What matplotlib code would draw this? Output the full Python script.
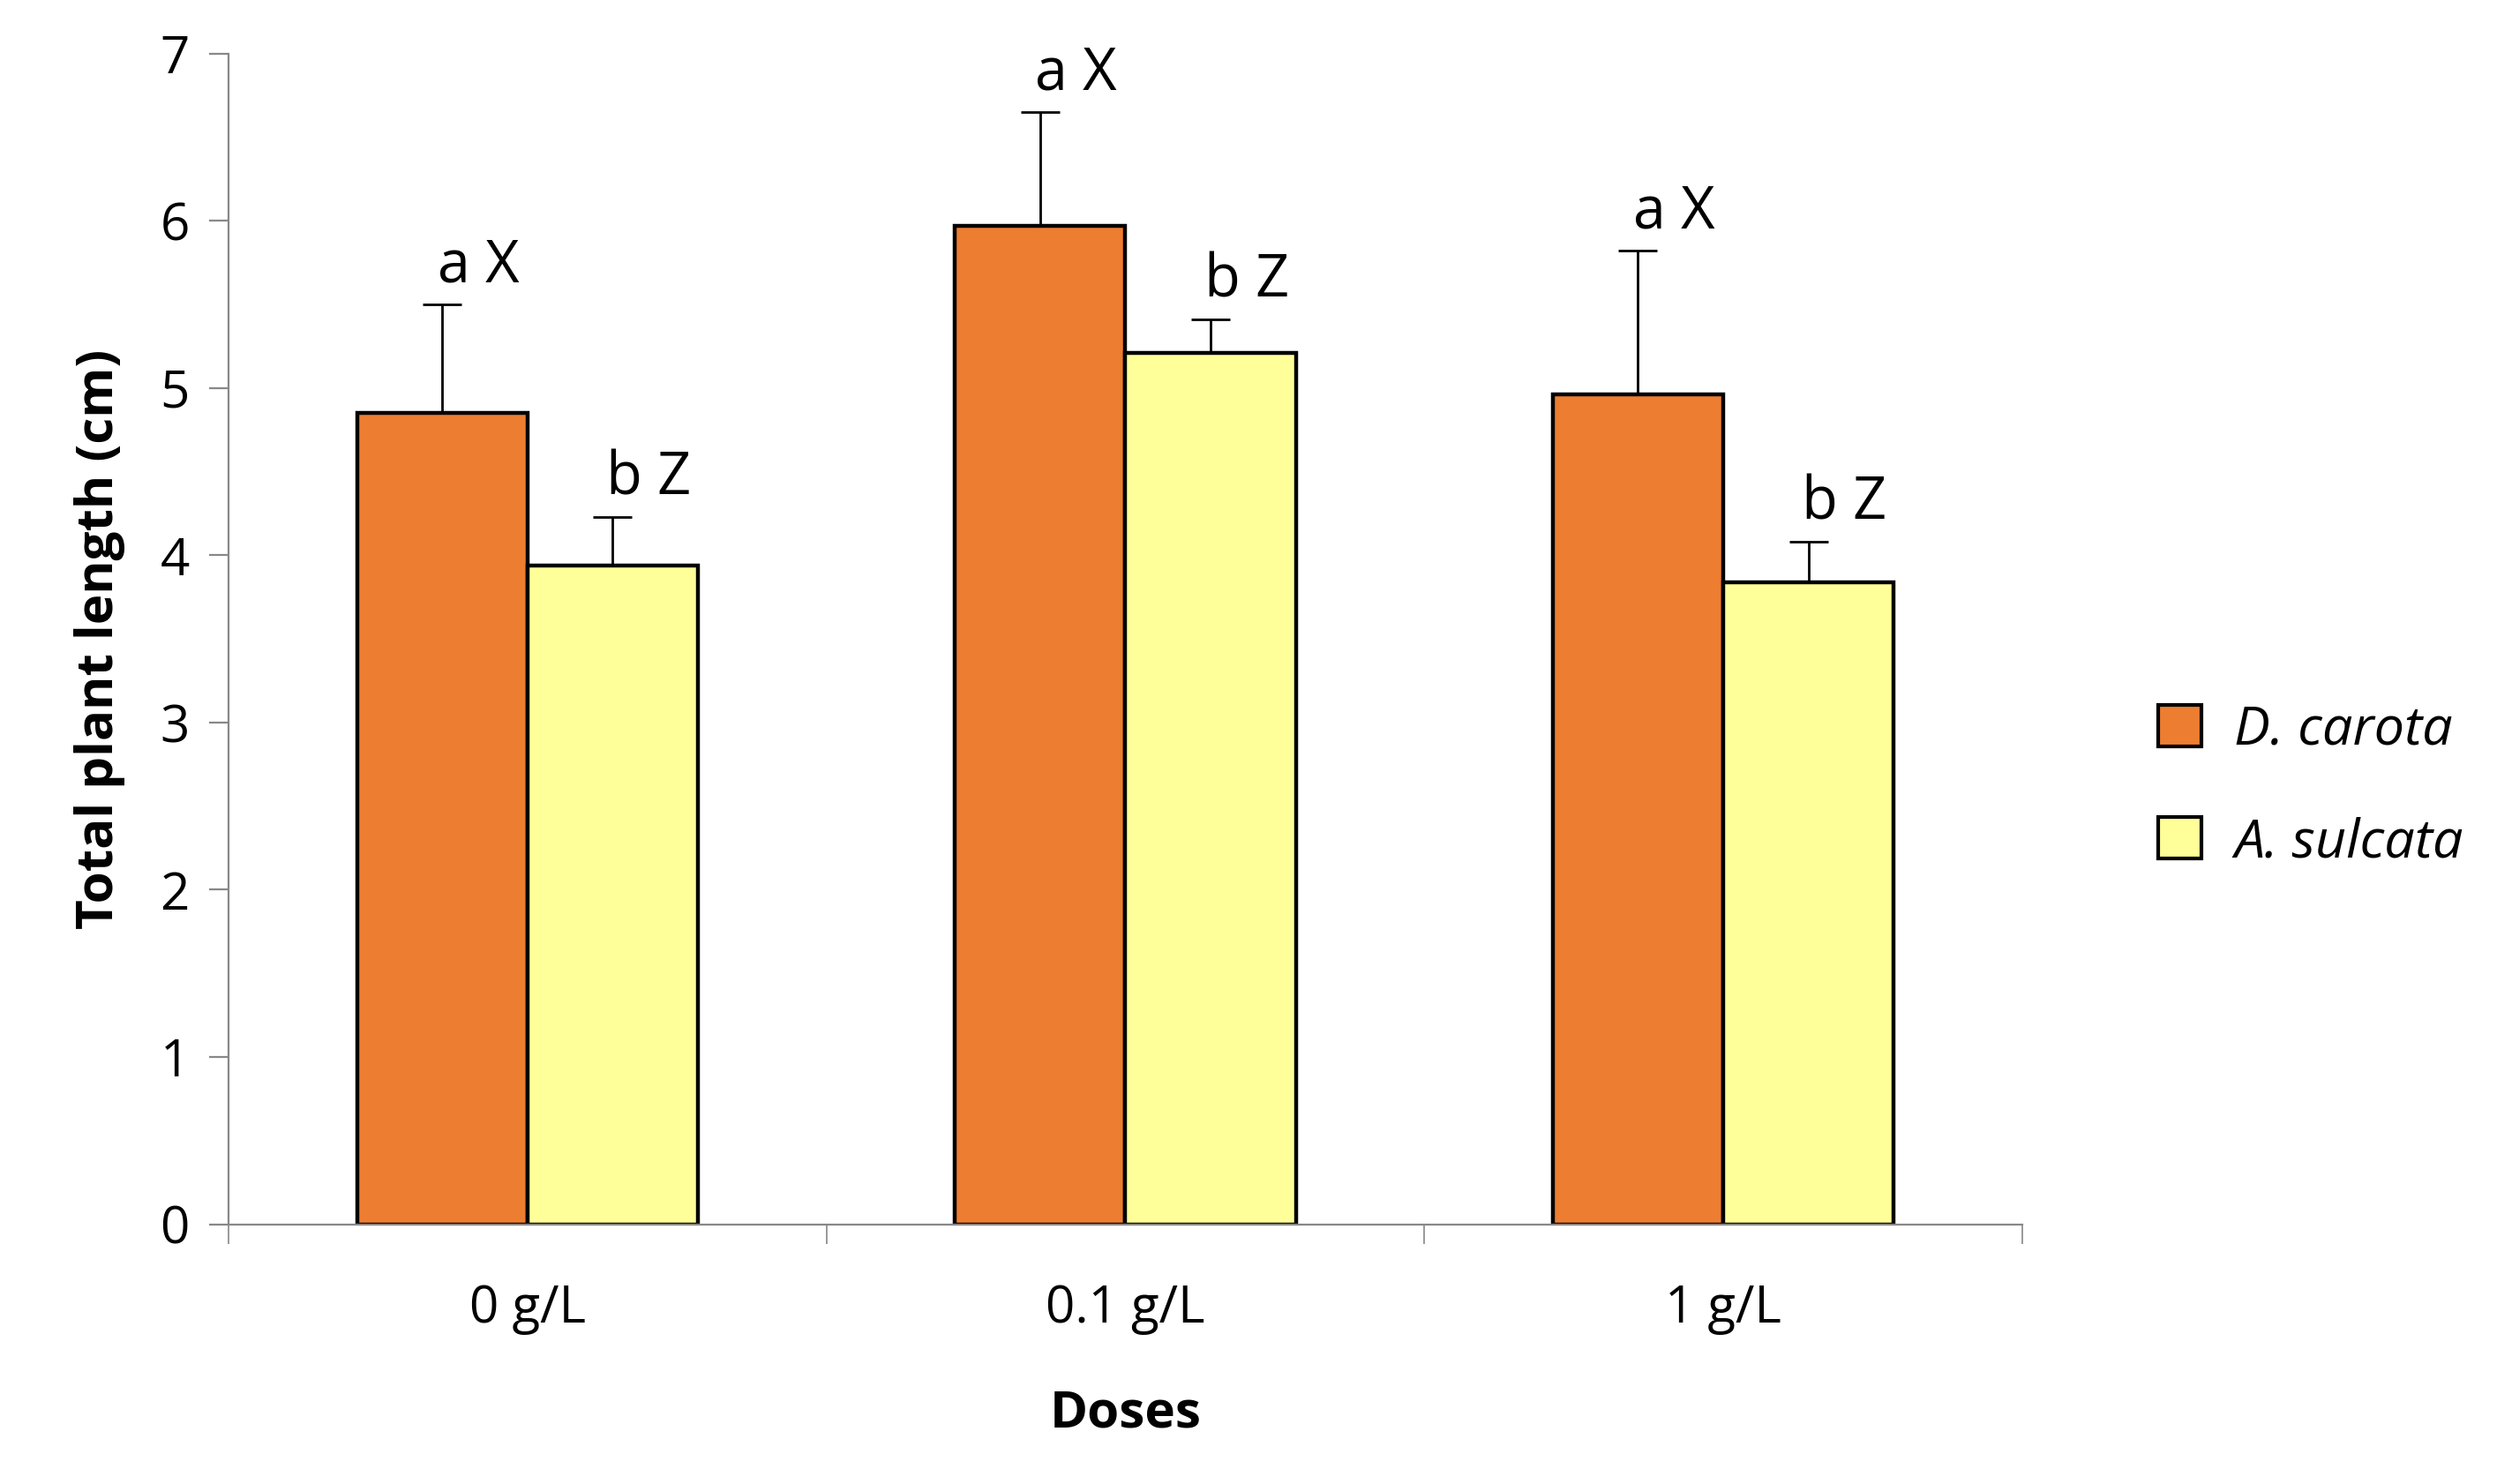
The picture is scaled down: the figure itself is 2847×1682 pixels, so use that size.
import matplotlib.pyplot as plt
import numpy as np

plt.rcParams['font.family'] = ['Open Sans', 'DejaVu Sans']

doses = ["0 g/L", "0.1 g/L", "1 g/L"]
carota = [4.85, 5.97, 4.96]
carota_err = [0.65, 0.68, 0.86]
sulcata = [3.94, 5.21, 3.84]
sulcata_err = [0.29, 0.20, 0.24]
carota_letters = ["a", "a", "a"]
carota_groups = ["X", "X", "X"]
sulcata_letters = ["b", "b", "b"]
sulcata_groups = ["Z", "Z", "Z"]

fig = plt.figure(figsize=(14.235, 8.41), dpi=200)
ax = fig.add_axes([0.091, 0.175, 0.714, 0.789])

x = np.arange(len(doses))
w = 0.285
zeros = [0] * len(doses)
ax.bar(x - w / 2, carota, w, color="#ED7D31", edgecolor="black", linewidth=1.6,
       yerr=[zeros, carota_err], error_kw=dict(ecolor="black", elinewidth=1, capsize=8, capthick=1),
       label="D. carota")
ax.bar(x + w / 2, sulcata, w, color="#FFFF99", edgecolor="black", linewidth=1.6,
       yerr=[zeros, sulcata_err], error_kw=dict(ecolor="black", elinewidth=1, capsize=8, capthick=1),
       label="A. sulcata")

for i in range(len(doses)):
    ax.text(x[i] - w / 2 + 0.06, carota[i] + carota_err[i] + 0.05,
            carota_letters[i] + " " + carota_groups[i],
            ha="center", va="bottom", fontsize=24)
    ax.text(x[i] + w / 2 + 0.06, sulcata[i] + sulcata_err[i] + 0.05,
            sulcata_letters[i] + " " + sulcata_groups[i],
            ha="center", va="bottom", fontsize=24)

ax.set_xlim(-0.5, 2.5)
ax.set_ylim(0, 7)
ax.set_yticks(range(0, 8))
ax.set_xticks(x)
ax.set_xticklabels(doses)
ax.set_xticks([-0.5, 0.5, 1.5, 2.5], minor=True)
ax.tick_params(axis="x", which="major", length=0, labelsize=21, pad=24)
ax.tick_params(axis="x", which="minor", length=8, direction="out", color="#888888")
ax.tick_params(axis="y", length=8, direction="out", color="#888888", labelsize=21, pad=8)
for s in ["top", "right"]:
    ax.spines[s].set_visible(False)
for s in ["left", "bottom"]:
    ax.spines[s].set_color("#888888")

ax.set_xlabel("Doses", fontsize=21, fontweight="bold", labelpad=22)
ax.set_ylabel("Total plant length (cm)", fontsize=21, fontweight="bold", labelpad=14)

leg = fig.legend(loc="center left", bbox_to_anchor=(0.84, 0.47), frameon=False,
                 prop=dict(size=22, style="italic"), labelspacing=1.1, handlelength=0.8,
                 handleheight=0.8, handletextpad=0.6)
for h in leg.legend_handles:
    h.set_linewidth(1.5)

fig.savefig("out.png")
